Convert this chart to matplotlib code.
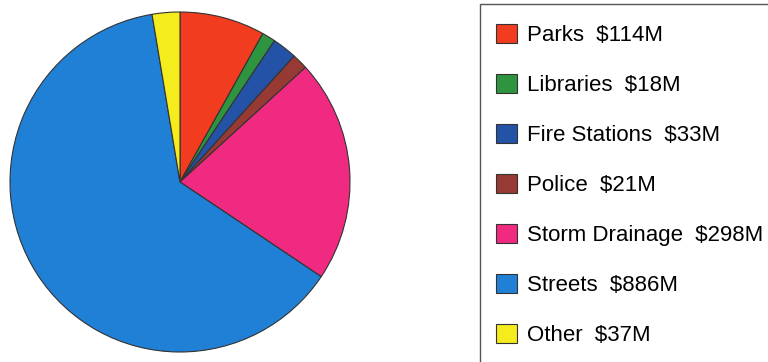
import matplotlib.pyplot as plt
from matplotlib.patches import Rectangle

categories = ["Parks", "Libraries", "Fire Stations", "Police",
              "Storm Drainage", "Streets", "Other"]
amounts = [114, 18, 33, 21, 298, 886, 37]
colors = ["#F23C1F", "#2E9440", "#2352A6", "#973A33",
          "#F02A80", "#1F80D6", "#F4EC1C"]

labels = [f"{c}  ${a}M" for c, a in zip(categories, amounts)]

plt.rcParams['font.family'] = ['Liberation Sans', 'DejaVu Sans']

W, H = 768, 362
fig = plt.figure(figsize=(W / 100, H / 100), dpi=100)

# pie: centre ~ (180, 182) px, radius ~170 px
cx, cy, r = 180, 182, 170
ax = fig.add_axes([(cx - r) / W, (H - cy - r) / H, 2 * r / W, 2 * r / H])
wedges, _ = ax.pie(amounts, colors=colors, startangle=90, counterclock=False,
                   wedgeprops=dict(edgecolor="#333333", linewidth=0.8))
ax.set_xlim(-1, 1)
ax.set_ylim(-1, 1)
ax.set_aspect("equal")

# legend frame running off the right and bottom edges
fig.patches.append(Rectangle((480 / W, -0.05), 0.5, (H - 4) / H + 0.05,
                             transform=fig.transFigure, fill=False,
                             edgecolor="#555555", linewidth=1.0))

leg = fig.legend(wedges, labels, loc="upper left",
                 bbox_to_anchor=(496 / W, 1 - 24 / H),
                 frameon=False, fontsize=16, handlelength=0.95,
                 handleheight=0.95, handletextpad=0.45, labelspacing=1.25,
                 borderpad=0, borderaxespad=0)
for h in leg.legend_handles:
    h.set_edgecolor("#333333")
    h.set_linewidth(0.8)

fig.savefig("out.png", dpi=100)
